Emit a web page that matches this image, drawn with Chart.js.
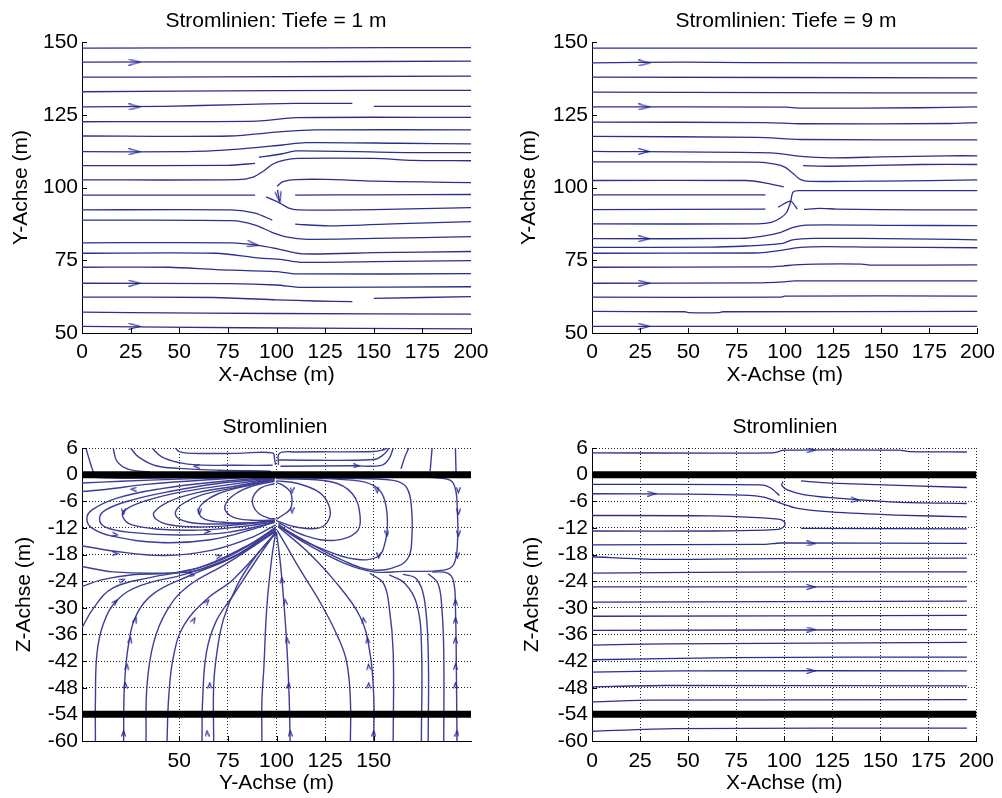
<!DOCTYPE html>
<html lang="de">
<head>
<meta charset="UTF-8">
<title>Stromlinien</title>
<style>
    body, html {
        margin: 0;
        padding: 0;
        background: #fff;
        font-family: "Liberation Sans", Arial, sans-serif;
    }
    #page {
        position: relative;
        width: 1002px;
        height: 798px;
        overflow: hidden;
    }
    .panel { position: absolute; }
    .title {
        position: absolute;
        font-size: 21px;
        line-height: 21px;
        color: #000;
        white-space: nowrap;
        transform: translateX(-50%);
    }
</style>
</head>
<body>
<div id="page">
    <canvas id="c1" class="panel" width="500" height="395" style="left:0;top:0"></canvas>
    <canvas id="c2" class="panel" width="502" height="395" style="left:500px;top:0"></canvas>
    <canvas id="c3" class="panel" width="500" height="398" style="left:0;top:400px"></canvas>
    <canvas id="c4" class="panel" width="502" height="398" style="left:500px;top:400px"></canvas>
    <div class="title" style="left:276px;top:9px">Stromlinien: Tiefe = 1 m</div>
    <div class="title" style="left:786px;top:9px">Stromlinien: Tiefe = 9 m</div>
    <div class="title" style="left:275px;top:415px">Stromlinien</div>
    <div class="title" style="left:785px;top:415px">Stromlinien</div>
</div>

<script src="https://cdn.jsdelivr.net/npm/chart.js"></script>
<script>
// tick labels
const xTicksFull = [0, 25, 50, 75, 100, 125, 150, 175, 200];
const xTicksSection = [50, 75, 100, 125, 150];
const yTicksPlan = [50, 75, 100, 125, 150];
const zTicks = [-60, -54, -48, -42, -36, -30, -24, -18, -12, -6, 0, 6];

// thick layer boundaries (z) drawn across the section plots
const layerZ = [0, -54];
const layerX = [0, 200];

// streamlines, plan view at depth 1 m: [x, y] points
const tiefe1Lines = [
    [[0,147.9],[120,148.0],[200,148.1]],
    [[0,143.1],[100,143.2],[200,143.4]],
    [[0,137.9],[70,138.0],[200,138.3]],
    [[0,132.9],[98,133.3],[200,133.4]],
    [[0,127.7],[42,127.9],[80,128.5],[110,128.9],[139,128.9]],
    [[150,127.9],[200,127.9]],
    [[0,122.6],[90,122.8],[110,124.0],[200,124.1]],
    [[0,117.7],[76,117.7],[103,119.2],[120,119.8],[200,119.8]],
    [[0,112.3],[53,112.3],[75,112.9],[103,114.6],[115,115.4],[163,115.2],[200,115.0]],
    [[91,110.4],[103,111.6],[110,112.6],[170,112.0],[200,112.0]],
    [[0,107.5],[75,107.6],[89,108.3]],
    [[0,102.6],[80,102.7],[88,103.6],[93,105.5],[98,108.0],[104,109.4],[111,110.0],[150,110.0],[170,109.3],[200,109.2]],
    [[0,97.4],[89,97.4]],
    [[100.3,100.4],[103,101.9],[110,102.7],[125,102.8],[150,102.2],[175,101.9],[200,101.7]],
    [[100.5,99.2],[101.5,95.4]],
    [[94.7,96.8],[101.9,94.6],[106,93.0],[111,92.3],[150,92.4],[200,93.1]],
    [[109.6,97.4],[150,97.5],[200,97.6]],
    [[0,92.3],[77,92.3],[89,91.2],[97.8,88.8]],
    [[109.6,87.4],[127,86.8],[164,87.6],[200,88.3]],
    [[0,88.8],[77,88.6],[89,87.1],[98,84.5],[105,83.0],[116,82.2],[150,82.5],[200,83.1]],
    [[0,81.0],[77,81.0],[90,80.2],[100,79.0],[113,77.2],[150,77.6],[200,78.0]],
    [[0,77.4],[69,77.4],[89,75.9],[103,75.2],[113,74.3],[150,74.5],[200,74.9]],
    [[0,72.6],[45,72.6],[69,71.8],[100,71.1],[110,70.3],[200,70.4]],
    [[0,67.1],[76,67.0],[100,66.5],[113,65.7],[200,65.9]],
    [[0,62.3],[68,62.2],[100,61.4],[120,61.0],[139,60.8]],
    [[150,61.9],[200,62.5]],
    [[0,57.2],[25,57.0],[100,56.7],[200,56.5]],
    [[0,52.3],[83,51.8],[200,51.4]]
];
const tiefe1ArrowX = [27, 27, 27, 27, 27, 88, 101.3];
const tiefe1ArrowY = [143.1, 127.7, 112.3, 67.1, 52.3, 80.4, 96.6];
const tiefe1ArrowDir = [0, 0, 0, 0, 0, 10, 80];

// streamlines, plan view at depth 9 m
const tiefe9Lines = [
    [[0,147.9],[200,147.9]],
    [[0,142.8],[48,143.1],[80,142.9],[200,142.8]],
    [[0,137.9],[200,137.7]],
    [[0,132.8],[97,132.6],[200,132.5]],
    [[0,127.7],[100,127.6],[108,127.3],[170,127.4],[200,127.7]],
    [[0,122.5],[90,122.3],[108,121.9],[185,122.0],[200,122.3]],
    [[0,117.6],[86,117.2],[108,116.5],[200,116.4]],
    [[0,112.4],[93,111.9],[107,110.8],[124,110.2],[150,110.5],[184,110.9],[200,110.9]],
    [[109.5,107.5],[125,107.3],[170,107.9],[200,107.9]],
    [[0,108.8],[86,108.7],[95,108.0],[100,107.0],[104,105.0],[108,102.8],[113,102.1],[150,102.2],[200,102.6]],
    [[0,102.4],[80,102.4],[89,101.7],[99.5,100.2]],
    [[0,97.5],[90,97.5]],
    [[0,92.4],[90,92.6]],
    [[0,87.5],[86,87.5],[93,88.0],[98,89.6],[101,91.5],[103,95.0],[104.3,98.4],[107.5,98.9],[150,98.9],[200,98.9]],
    [[96.5,93.2],[103,95.3],[106.5,92.6]],
    [[110,92.5],[118,92.8],[127,92.6],[170,92.3],[200,92.3]],
    [[0,82.4],[77,82.5],[88,83.2],[98,84.6],[104,86.2],[111,87.1],[156,87.0],[200,86.9]],
    [[0,79.4],[62,79.5],[80,79.9],[90,80.3],[99,80.8],[104,82.0],[115,82.5],[140,82.5],[188,82.2],[200,82.0]],
    [[0,77.4],[84,77.5],[90,77.7],[99,78.5],[108,79.4],[121,79.7],[145,79.5],[200,79.3]],
    [[0,72.6],[90,72.7],[99,73.0],[105,73.4],[116,73.7],[140,73.7],[145,73.3],[200,73.4]],
    [[0,67.1],[85,67.2],[100,67.6],[105,67.9],[200,67.9]],
    [[0,62.3],[98,62.3],[100,62.7],[200,62.7]],
    [[0,57.4],[48,57.3],[50,57.0],[66,57.0],[68,57.3],[200,57.4]],
    [[0,52.3],[200,52.3]]
];
const tiefe9ArrowX = [27, 27, 27, 27, 27, 27];
const tiefe9ArrowY = [142.8, 127.7, 112.4, 82.4, 67.1, 52.3];
const tiefe9ArrowDir = [0, 0, 0, 0, 0, 0];

// streamlines, vertical section Y-Z: [y, z] points
const sectionYLines = [
    // above the upper layer
    [[2,6],[4,3],[6,0.3]],
    [[16,6],[18,3],[24,1.2],[35,0.6]],
    [[25,6],[29,4],[38,2],[50,1.4],[70,1.0],[97,0.8]],
    [[36,6],[41,4],[50,2.7],[59,2.2],[80,2.1],[98,2.1]],
    [[48,6],[50,5.2],[56,4.8],[80,4.8],[98,4.9],[99,3.5],[99.5,2.2]],
    [[101,2.2],[101.5,4.8],[110,5.1],[150,5.2],[155,5.6],[157,6]],
    [[101,3.3],[150,3.4],[155,4.5],[158,6]],
    [[102,1.9],[140,2.0],[154,2.1],[158,3.7],[160,6]],
    [[164,1.3],[166,4],[168,6]],
    [[179,0.8],[180,6]],
    [[192,6],[192.3,0.5]],
    // left side, below the upper layer
    [[6,-0.6],[20,-0.8],[50,-0.7],[99,-0.3]],
    [[0,-1.9],[20,-1.5],[50,-1.0],[99,-0.4]],
    [[0,-3.8],[13,-3.3],[33,-2.2],[67,-1.1],[99,-0.4]],
    [[99,-0.6],[70,-1.6],[40,-3.2],[18,-5.3],[5,-8],[2.5,-10],[5,-12],[15,-13.8],[40,-15.3],[67,-14.6],[90,-12],[99,-10.6]],
    [[99,-0.7],[70,-2],[45,-3.8],[25,-5.8],[12,-8],[9,-10],[12,-11.8],[25,-13],[50,-13.6],[75,-13],[99,-10.8]],
    [[99,-0.8],[75,-2.3],[50,-4],[32,-6],[22,-8],[21,-9.5],[25,-11.2],[40,-12.3],[60,-12.5],[80,-11.8],[99,-10.7]],
    [[99,-0.9],[80,-2.5],[60,-4],[45,-6],[37,-8.5],[38,-10],[45,-11.3],[60,-11.8],[80,-11.3],[99,-10.5]],
    [[99,-1],[80,-2.8],[62,-4.5],[52,-6.5],[48,-8.5],[50,-10],[60,-11],[80,-11],[99,-10.4]],
    [[99,-1.2],[85,-2.5],[70,-4.3],[62,-6.5],[60,-8.3],[63,-10],[75,-10.8],[90,-10.8],[99,-10.3]],
    [[99,-1.5],[88,-2.5],[79,-4.3],[74,-6.5],[74,-8.3],[79,-9.8],[90,-10.3],[99,-10.2]],
    [[99,-2],[92,-3],[88,-5],[88,-7],[91,-8.8],[96,-9.8],[99.5,-10]],
    [[0,-16],[16,-17.2],[42,-18.2],[67,-17],[88,-14],[99.6,-11.3]],
    [[0,-20.7],[16,-21.9],[42,-22.2],[60,-21.5],[80,-18],[99.6,-11.8]],
    [[0,-25.2],[10,-23.7],[25,-22.6],[50,-21.9],[75,-18.5],[99.6,-12]],
    [[0,-34.5],[6,-30],[16,-25.5],[35,-23.2],[60,-21],[85,-16],[99.6,-12.3]],
    // lower fan into the well
    [[6.9,-60],[6.9,-51],[7.7,-40.3],[11,-33.6],[18,-28.3],[30,-25],[54,-22.3],[80,-18],[99.6,-12.8]],
    [[21.4,-60],[21.8,-47.8],[24,-38],[28.3,-31.3],[36.8,-26.8],[54,-23],[78,-18.5],[99.6,-12.5]],
    [[32.9,-60],[33.4,-47.6],[36.8,-37.9],[43.7,-30.6],[54,-25.3],[74.5,-20],[99.6,-12.8]],
    [[43.7,-60],[44.6,-50],[47,-41],[52.3,-34],[64.3,-28],[78,-23.5],[99.6,-13.2]],
    [[61.7,-60],[62,-51],[64,-40],[69,-33],[78,-27],[90,-19],[99.6,-13]],
    [[67.7,-60],[67.7,-47.6],[69.4,-40],[72.8,-32.5],[79.7,-25],[88.3,-19],[99.6,-13]],
    [[92.5,-60],[92.5,-51],[93.5,-43.5],[95,-30],[97.5,-19],[99.6,-13]],
    [[107,-60],[106.5,-50],[105.5,-40],[104,-30],[102,-20],[100,-13]],
    [[138,-60],[138,-51],[136,-42],[131,-36],[122.5,-28.8],[112,-21.3],[105,-16],[100.3,-12.5]],
    [[150,-60],[150,-50],[148,-40],[143,-32],[130,-24],[115,-17],[101,-11.8]],
    [[148,-22.2],[155,-24.5],[158,-30],[160,-40],[160,-60]],
    // right side loops
    [[100,-1.8],[103,-2.3],[107,-3.8],[108,-6],[107,-7.8],[103,-9.2],[100,-10]],
    [[100,-1.4],[111,-2],[122,-4],[127,-7],[127,-10],[122,-12],[110,-11.8],[100,-10.4]],
    [[100,-0.9],[128,-1.6],[139,-4.3],[143,-9.5],[141,-13],[130,-14.8],[115,-13.8],[101,-10.8]],
    [[100,-0.6],[140,-1.3],[150,-2.5],[155,-5],[157,-10],[156,-15],[152,-18.5],[140,-19],[125,-17],[110,-14],[101,-11.2]],
    [[100,-0.3],[130,-0.8],[160,-1.3],[167,-3],[169.5,-8],[169.5,-15],[168,-18.5],[163,-20.5],[150,-21.5],[135,-19.5],[115,-15],[101,-11.5]],
    [[100,-0.2],[150,-0.5],[185,-0.8],[191,-2],[193,-8],[193,-16],[191,-20.3],[186,-21.5],[165,-21.8],[150,-21.9],[135,-20],[115,-15.5],[101,-11.6]],
    [[192.8,-60],[192.5,-45],[192,-30],[191,-24],[188,-22.2],[180,-21.9]],
    [[186,-60],[186,-40],[185,-30],[183,-24.5],[178,-22.3]],
    [[178,-60],[178,-40],[176,-28],[172,-23.5],[165,-22.4]],
    [[174.5,-60],[174.5,-38],[172,-29],[166,-24.5],[158,-22.6]]
];
const sectionYArrowX = [59, 141, 26.6, 21.4, 60.3, 108, 108, 151.7, 193.5, 193.5, 193.5, 193,
    17, 64.3, 156.8, 17, 70.3, 152.6, 20.6, 56.5, 102.8, 17.1, 64.3, 104.5, 192,
    27.4, 57.4, 144.8, 192, 24.8, 105.4, 146.9, 192, 23.1, 147.4, 192,
    22.3, 65.7, 106.3, 147.4, 192, 21.4, 64.3, 107.1, 150, 192.8];
const sectionYArrowY = [1.9, 2.0, -3.3, -8.4, -8.4, -3.5, -8.0, -3.5, -3.5, -8.4, -13.3, -18.2,
    -13.5, -12.8, -13.3, -17.8, -18.4, -18.2, -23.8, -22.6, -23.8, -28.7, -28.7, -28.7, -28.7,
    -32.8, -32.8, -32.8, -32.8, -37.3, -37.3, -37.3, -37.3, -43.3, -43.3, -43.3,
    -47.5, -47.5, -47.5, -47.5, -47.5, -58.3, -58.3, -58.3, -58.3, -58.3];
const sectionYArrowDir = [180, 0, 180, 90, 90, 90, 90, 85, 90, 90, 90, 90,
    10, 0, 90, 0, -15, 90, -20, 0, -95, -45, -50, -95, -90,
    -70, -60, -100, -90, -80, -90, -95, -90, -85, -95, -90,
    -90, -90, -90, -90, -90, -90, -90, -90, -90, -90];

// streamlines, vertical section X-Z: [x, z] points
const sectionXLines = [
    [[0,4.9],[94,4.9],[100,5.5],[160,5.5],[165,5.2],[195,5.1]],
    [[0,-2.2],[88,-2.3],[93,-3.0],[97.5,-4.7]],
    [[0,-4.3],[50,-4.4],[78,-4.6],[90,-5.1],[98,-6.4],[107,-7.6],[124,-8.4],[158,-9.1],[195,-9.5]],
    [[99.3,-1.6],[98.7,-2.4],[102,-3.5],[110,-4.5],[124,-5.2],[158,-6.2],[195,-6.5]],
    [[108.7,-1.4],[124,-1.9],[195,-2.9]],
    [[0,-9.2],[62,-9.3],[97,-10.0],[100,-10.6],[100.3,-11.4],[98,-12.2],[90,-12.5],[64,-12.7],[0,-12.7]],
    [[108.7,-12.1],[195,-12.2]],
    [[0,-15.8],[90,-15.7],[98,-15.4],[195,-15.5]],
    [[0,-18.5],[35,-19.1],[95,-18.9],[195,-18.8]],
    [[0,-22.2],[107,-21.9],[195,-21.9]],
    [[0,-25.3],[195,-25.3]],
    [[0,-28.7],[195,-28.5]],
    [[0,-31.9],[195,-31.7]],
    [[0,-35.1],[195,-34.9]],
    [[0,-38.4],[38,-38.1],[195,-37.8]],
    [[0,-41.7],[73,-41.2],[195,-41.1]],
    [[0,-44.5],[47,-44.2],[195,-44.2]],
    [[0,-47.8],[38,-47.5],[195,-47.6]],
    [[0,-51.2],[30,-50.8],[195,-50.7]],
    [[0,-57.8],[43,-57.2],[195,-57.1]]
];
const sectionXArrowX = [31, 114, 137, 114, 114, 114, 114];
const sectionXArrowY = [-4.3, 5.5, -5.7, -15.5, -25.3, -34.9, -44.2];
const sectionXArrowDir = [0, 0, 5, 0, 0, 0, 0];

const lineColor = 'rgb(46,46,140)';

function chevron(w, h, color) {
    const c = document.createElement('canvas');
    c.width = w;
    c.height = h;
    const g = c.getContext('2d');
    g.strokeStyle = color;
    g.lineWidth = 1.2;
    g.beginPath();
    g.moveTo(0.5, 0.5);
    g.lineTo(w - 1, h / 2);
    g.lineTo(0.5, h - 0.5);
    g.stroke();
    return c;
}

// MATLAB style ticks pointing into the plot
const inwardTicks = {
    id: 'inwardTicks',
    afterDraw(chart) {
        const {ctx, chartArea: a, scales: {x, y}} = chart;
        ctx.save();
        ctx.strokeStyle = '#000';
        ctx.lineWidth = 1;
        ctx.beginPath();
        x.ticks.forEach(t => {
            const px = Math.round(x.getPixelForValue(t.value)) + 0.5;
            ctx.moveTo(px, a.bottom);
            ctx.lineTo(px, a.bottom - 5);
        });
        y.ticks.forEach(t => {
            const py = Math.round(y.getPixelForValue(t.value)) + 0.5;
            ctx.moveTo(a.left, py);
            ctx.lineTo(a.left + 5, py);
        });
        ctx.stroke();
        ctx.restore();
    }
};

function panel(id, p) {
    const datasets = [];
    datasets.push({
        data: p.arrowX.map((x, i) => ({x, y: p.arrowY[i]})),
        pointStyle: chevron(p.arrowW, p.arrowH, 'rgb(30,30,150)'),
        pointRotation: p.arrowDir,
        pointRadius: 4,
        showLine: false
    });
    if (p.layers) {
        layerZ.forEach(z => datasets.push({
            data: layerX.map(x => ({x, y: z})),
            showLine: true, borderColor: '#000', borderWidth: 7, pointRadius: 0
        }));
    }
    p.lines.forEach(pts => datasets.push({
        data: pts.map(([x, y]) => ({x, y})),
        showLine: true, borderColor: p.color, borderWidth: p.lw,
        pointRadius: 0, tension: p.tension
    }));

    const tickFont = {family: '"Liberation Sans", Arial, sans-serif', size: 21};
    const labelFont = {family: '"Liberation Sans", Arial, sans-serif', size: 21};

    return new Chart(document.getElementById(id), {
        type: 'scatter',
        data: {datasets},
        options: {
            responsive: false,
            animation: false,
            events: [],
            layout: {padding: {top: p.top, right: p.right, left: 0, bottom: 0}},
            plugins: {legend: {display: false}, tooltip: {enabled: false}},
            scales: {
                x: {
                    type: 'linear', min: 0, max: 200,
                    afterBuildTicks: s => { s.ticks = p.xTicks.map(v => ({value: v})); },
                    afterFit: s => { s.height = p.xHeight; },
                    ticks: {color: '#000', font: tickFont, padding: p.xTickPad, maxRotation: 0, autoSkip: false,
                        callback: v => String(v)},
                    grid: {display: p.grid, drawTicks: false, color: '#222', lineWidth: 1},
                    border: {display: true, color: '#000', width: 1, dash: [1, 2]},
                    title: {display: true, text: p.xTitle, color: '#000', font: labelFont,
                        padding: {top: 0, bottom: p.xTitlePad}}
                },
                y: {
                    type: 'linear', min: p.yTicks[0], max: p.yTicks[p.yTicks.length - 1],
                    afterBuildTicks: s => { s.ticks = p.yTicks.map(v => ({value: v})); },
                    afterFit: s => { s.width = p.yWidth; },
                    ticks: {color: '#000', font: tickFont, padding: 4, autoSkip: false,
                        callback: v => String(v)},
                    grid: {display: p.grid, drawTicks: false, color: '#222', lineWidth: 1},
                    border: {display: true, color: '#000', width: 1, dash: [1, 2]},
                    title: {display: true, text: p.yTitle, color: '#000', font: labelFont,
                        padding: {top: p.yTitlePad, bottom: 0}}
                }
            }
        },
        plugins: [inwardTicks]
    });
}

panel('c1', {
    lines: tiefe1Lines, arrowX: tiefe1ArrowX, arrowY: tiefe1ArrowY, arrowDir: tiefe1ArrowDir,
    arrowW: 13, arrowH: 7, color: lineColor, lw: 1.3, tension: 0.25, layers: false, grid: false,
    xTicks: xTicksFull, yTicks: yTicksPlan, xTitle: 'X-Achse (m)', yTitle: 'Y-Achse (m)',
    top: 42, right: 29, yWidth: 82, xHeight: 62, xTickPad: 7, xTitlePad: 7, yTitlePad: 9
});
panel('c2', {
    lines: tiefe9Lines, arrowX: tiefe9ArrowX, arrowY: tiefe9ArrowY, arrowDir: tiefe9ArrowDir,
    arrowW: 13, arrowH: 7, color: lineColor, lw: 1.3, tension: 0.25, layers: false, grid: false,
    xTicks: xTicksFull, yTicks: yTicksPlan, xTitle: 'X-Achse (m)', yTitle: 'Y-Achse (m)',
    top: 42, right: 21, yWidth: 92, xHeight: 62, xTickPad: 7, xTitlePad: 7, yTitlePad: 17
});
panel('c3', {
    lines: sectionYLines, arrowX: sectionYArrowX, arrowY: sectionYArrowY, arrowDir: sectionYArrowDir,
    arrowW: 7, arrowH: 5, color: 'rgb(62,62,150)', lw: 1.4, tension: 0.4, layers: true, grid: true,
    xTicks: xTicksSection, yTicks: zTicks, xTitle: 'Y-Achse (m)', yTitle: 'Z-Achse (m)',
    top: 48, right: 29, yWidth: 82, xHeight: 57, xTickPad: 8, xTitlePad: 2, yTitlePad: 12
});
panel('c4', {
    lines: sectionXLines, arrowX: sectionXArrowX, arrowY: sectionXArrowY, arrowDir: sectionXArrowDir,
    arrowW: 10, arrowH: 6, color: lineColor, lw: 1.3, tension: 0.25, layers: true, grid: true,
    xTicks: xTicksFull, yTicks: zTicks, xTitle: 'X-Achse (m)', yTitle: 'Z-Achse (m)',
    top: 48, right: 21, yWidth: 92, xHeight: 57, xTickPad: 8, xTitlePad: 2, yTitlePad: 20
});
</script>
</body>
</html>
